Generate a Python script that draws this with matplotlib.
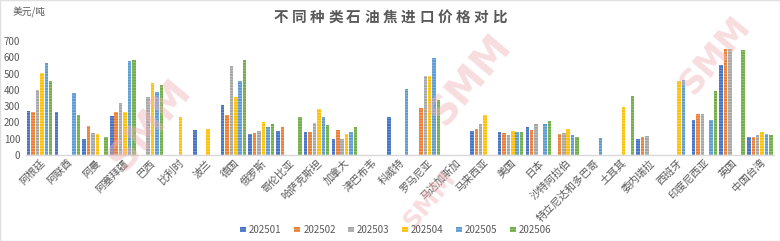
import numpy as np
import matplotlib
matplotlib.use("Agg")
import matplotlib.pyplot as plt

plt.rcParams['font.family'] = ['Noto Sans CJK SC', 'DejaVu Sans']
plt.rcParams['hatch.linewidth'] = 0.6

nan = np.nan

countries = ['阿根廷', '阿联酋', '阿曼', '阿塞拜疆', '巴西', '比利时', '波兰', '德国',
             '俄罗斯', '哥伦比亚', '哈萨克斯坦', '加拿大', '津巴布韦', '科威特', '罗马尼亚',
             '马达加斯加', '马来西亚', '美国', '日本', '沙特阿拉伯', '特立尼达和多巴哥',
             '土耳其', '委内瑞拉', '西班牙', '印度尼西亚', '英国', '中国台湾']

months = ['202501', '202502', '202503', '202504', '202505', '202506']

# price per month, one value per country (nan = no import)
p202501 = [272, 262, 98, 241, nan, nan, 153, 309, 127, 145, 143, 98, nan, 235, nan,
           nan, 145, 141, 170, nan, nan, nan, 100, nan, 215, 552, 112]
p202502 = [266, nan, 178, 266, nan, nan, nan, 243, 137, 170, 141, 151, nan, nan, 288,
           nan, 157, 133, 153, 129, nan, nan, 108, nan, 249, 648, 112]
p202503 = [399, nan, 137, 320, 356, nan, nan, 544, 149, nan, 194, 98, nan, nan, 485,
           nan, 190, 125, 190, 137, nan, nan, 114, nan, 249, 648, 125]
p202504 = [501, nan, 129, 266, 440, 235, 161, 358, 202, nan, 280, 127, nan, nan, 485,
           nan, 245, 149, nan, 161, nan, 294, nan, 452, nan, nan, 141]
p202505 = [563, 378, nan, 578, 389, nan, nan, 452, 170, nan, 231, 143, nan, 407, 595,
           nan, nan, 139, 190, 125, 104, nan, nan, 460, 215, nan, 129]
p202506 = [454, 245, 112, 582, 428, nan, nan, 583, 190, 231, 186, 170, nan, nan, 337,
           nan, nan, 139, 210, 108, nan, 360, nan, nan, 394, 644, 121]

series = [p202501, p202502, p202503, p202504, p202505, p202506]
colors = ['#4472C4', '#ED7D31', '#A5A5A5', '#FFC000', '#5B9BD5', '#70AD47']
hatch_cols = ['#7A9BD8', '#F4A877', '#C8C8C8', '#FFD966', '#93BDE5', '#9CC77F']

fig = plt.figure(figsize=(7.8, 2.41), dpi=100)
ax = fig.add_axes([0.0331, 0.357, 0.9589, 0.473])

x = np.arange(len(countries))
pitch = 0.159
for j, (vals, c, hc) in enumerate(zip(series, colors, hatch_cols)):
    ax.bar(x + (j - 2.5) * pitch, vals, width=0.128, color=c, edgecolor=hc,
           linewidth=0, hatch='------', label=months[j], zorder=2)

ax.set_xlim(-0.5, len(countries) - 0.5)
ax.set_ylim(0, 700)
ax.set_yticks(range(0, 701, 100))
ax.tick_params(axis='y', length=0, labelsize=7, labelcolor='#595959', pad=4)
ax.tick_params(axis='x', length=0, pad=2)
ax.set_xticks(x)
ax.set_xticklabels(countries, rotation=45, ha='right', rotation_mode='anchor',
                   fontsize=7.5, color='#595959')
for s in ['top', 'right', 'left']:
    ax.spines[s].set_visible(False)
ax.spines['bottom'].set_color('#D9D9D9')
ax.spines['bottom'].set_linewidth(1.0)

# title with wide letter spacing
title = '不同种类石油焦进口价格对比'
step = 18.2 / 780
x0 = 390 / 780 - step * (len(title) - 1) / 2
for i, ch in enumerate(title):
    fig.text(x0 + i * step, 1 - 17 / 241, ch, fontsize=10.5, color='#595959',
             ha='center', va='center', fontweight='bold')

fig.text(13 / 780, 1 - 12 / 241, '美元/吨', fontsize=7, color='#595959',
         ha='left', va='center')

leg = fig.legend(loc='center', bbox_to_anchor=(396 / 780, 1 - 230 / 241), ncol=6,
                 frameon=False, fontsize=7, handlelength=0.55, handleheight=0.55,
                 handletextpad=0.35, columnspacing=1.3, labelcolor='#595959')

# SMM watermarks (kept inside the picture)
wm = [(150, 125, 28), (470, 80, 28), (715, 55, 24), (430, 200, 18)]
for wx, wy, fs in wm:
    fig.text(wx / 780, 1 - wy / 241, 'SMM', fontsize=fs, color='#F0B4B9',
             alpha=0.45, rotation=50, ha='center', va='center',
             fontweight='bold', family='DejaVu Sans', zorder=5)

fig.patches.append(plt.Rectangle((0, 0), 1, 1, transform=fig.transFigure,
                                 fill=False, edgecolor='#E0E0E0', linewidth=1))

fig.savefig('out.png', dpi=100)
